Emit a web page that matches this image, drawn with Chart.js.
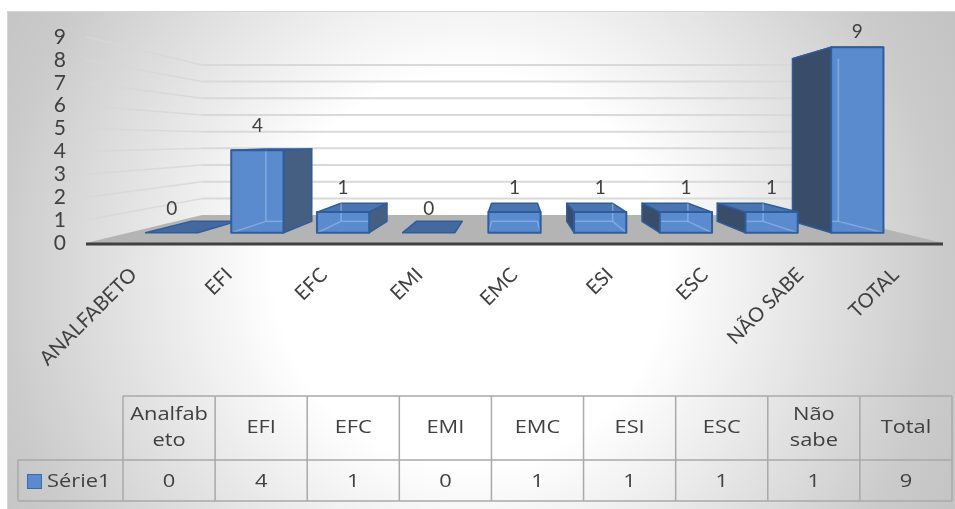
<!DOCTYPE html>
<html>
<head>
<meta charset="utf-8">
<script src="https://cdn.jsdelivr.net/npm/chart.js@4.4.1/dist/chart.umd.min.js"></script>
<style>
  html, body { margin: 0; padding: 0; background: #ffffff; }
  #wrap { width: 955px; height: 509px; position: relative; }
  canvas { display: block; }
</style>
</head>
<body>
<div id="wrap"><canvas id="c" width="955" height="509"></canvas></div>
<script>
// ---- data ----
const categories = ['Analfabeto', 'EFI', 'EFC', 'EMI', 'EMC', 'ESI', 'ESC', 'Não sabe', 'Total'];
const values = [0, 4, 1, 0, 1, 1, 1, 1, 9];
const seriesName = 'Série1';
const yTicks = [0, 1, 2, 3, 4, 5, 6, 7, 8, 9];

// ---- look ----
const FONT = "Lato, 'Open Sans', sans-serif";
const TABLE_FONT = "'Open Sans', Lato, sans-serif";
const TABLE_STRETCH = 1.15;
const TEXT = '#404040';
// perspective depths (1 = front edge of the floor, smaller = further away)
const DEPTH = { barFront: 0.9, barBack: 0.79, wall: 0.729 };

function vanish(ca) {
  return [(ca.left + ca.right) / 2, (ca.top + ca.bottom) / 2];
}
function proj(ca, x, y, s) {
  const [vx, vy] = vanish(ca);
  return [vx + (x - vx) * s, vy + (y - vy) * s];
}
function poly(ctx, pts, fill, stroke, lw) {
  ctx.beginPath();
  ctx.moveTo(pts[0][0], pts[0][1]);
  for (let i = 1; i < pts.length; i++) ctx.lineTo(pts[i][0], pts[i][1]);
  ctx.closePath();
  if (fill) { ctx.fillStyle = fill; ctx.fill(); }
  if (stroke) { ctx.strokeStyle = stroke; ctx.lineWidth = lw || 1; ctx.lineJoin = 'round'; ctx.stroke(); }
}
function line(ctx, a, b, color, lw) {
  ctx.beginPath();
  ctx.moveTo(a[0], a[1]);
  ctx.lineTo(b[0], b[1]);
  ctx.strokeStyle = color;
  ctx.lineWidth = lw;
  ctx.stroke();
}

// chart backdrop with radial shading
const backdrop = {
  id: 'backdrop',
  beforeDraw(chart) {
    const ctx = chart.ctx;
    ctx.save();
    ctx.fillStyle = '#ffffff';
    ctx.fillRect(0, 0, chart.width, chart.height);
    const g = ctx.createRadialGradient(470, 270, 0, 470, 270, 560);
    g.addColorStop(0, '#ffffff');
    g.addColorStop(0.35, '#ffffff');
    g.addColorStop(0.85, '#cacaca');
    g.addColorStop(1, '#c2c2c2');
    ctx.fillStyle = g;
    ctx.fillRect(7, 11, chart.width - 7, chart.height - 11);
    ctx.strokeStyle = '#d4d4d4';
    ctx.lineWidth = 1;
    ctx.strokeRect(7.5, 11.5, chart.width, chart.height);
    ctx.restore();
  }
};

// side wall / back wall gridlines and the floor
const walls = {
  id: 'walls',
  beforeDatasetsDraw(chart) {
    const ctx = chart.ctx, ca = chart.chartArea, ys = chart.scales.y;
    ctx.save();
    yTicks.forEach(v => {
      if (v === 0) return;
      const yf = ys.getPixelForValue(v);
      const a = proj(ca, ca.left, yf, DEPTH.wall);
      const b = proj(ca, ca.right, yf, DEPTH.wall);
      line(ctx, [ca.left, yf], a, 'rgba(215,215,215,0.85)', 1.5);
      line(ctx, a, b, '#d9d9d9', 2);
    });
    const y0 = ys.getPixelForValue(0);
    poly(ctx, [[ca.left, y0], [ca.right, y0],
               proj(ca, ca.right, y0, DEPTH.wall), proj(ca, ca.left, y0, DEPTH.wall)], '#b4b4b4');
    line(ctx, [ca.left, y0 + 1], [ca.right, y0 + 1], '#404040', 3);
    ctx.restore();
  }
};

// 3D boxes built on the bar elements laid out by the category / linear scales
const boxes = {
  id: 'boxes',
  afterDatasetsDraw(chart) {
    const ctx = chart.ctx, ca = chart.chartArea;
    const meta = chart.getDatasetMeta(0);
    const [vx] = vanish(ca);
    const idx = meta.data.map((_, i) => i)
      .sort((a, b) => Math.abs(meta.data[b].x - vx) - Math.abs(meta.data[a].x - vx));
    ctx.save();
    const labels = [];
    idx.forEach(i => {
      const el = meta.data[i];
      const v = chart.data.datasets[0].data[i];
      const l = el.x - el.width / 2, r = el.x + el.width / 2, t = el.y, b = el.base;
      const face = s => ({
        lt: proj(ca, l, t, s), rt: proj(ca, r, t, s),
        rb: proj(ca, r, b, s), lb: proj(ca, l, b, s)
      });
      const f = face(DEPTH.barFront), k = face(DEPTH.barBack);
      const edge = '#2f5c9a';
      if (v === 0) {
        poly(ctx, [f.lb, f.rb, k.rb, k.lb], '#44699f', edge, 1.5);
      } else {
        poly(ctx, [f.lt, f.rt, k.rt, k.lt], '#4b75ae', edge, 1.5);
        if (el.x < vx - 2) {
          poly(ctx, [f.rt, k.rt, k.rb, f.rb], '#455f82', edge, 1.5);
        } else if (el.x > vx + 2) {
          poly(ctx, [f.lt, k.lt, k.lb, f.lb], '#394d6b', edge, 1.5);
        }
        poly(ctx, [f.lt, f.rt, f.rb, f.lb], '#5b8bcf', null);
        // edges seen through the glassy front face
        const glass = 'rgba(160,195,240,0.55)';
        if (el.x < vx - 2) {
          line(ctx, k.lt, k.lb, glass, 1.5);
          line(ctx, k.lb, f.lb, glass, 1.5);
          line(ctx, k.lb, [Math.min(k.rb[0], f.rb[0]), k.rb[1]], glass, 1.5);
        } else if (el.x > vx + 2) {
          line(ctx, k.rt, k.rb, glass, 1.5);
          line(ctx, k.rb, f.rb, glass, 1.5);
          line(ctx, [Math.max(k.lb[0], f.lb[0]), k.lb[1]], k.rb, glass, 1.5);
        } else {
          line(ctx, k.lb, f.lb, glass, 1.5);
          line(ctx, k.rb, f.rb, glass, 1.5);
          line(ctx, k.lb, k.rb, glass, 1.5);
        }
        poly(ctx, [f.lt, f.rt, f.rb, f.lb], null, edge, 2);
      }
      labels.push({ x: (f.lt[0] + f.rt[0]) / 2, y: Math.max(f.lt[1] - 18, 38), text: String(v) });
    });
    ctx.fillStyle = TEXT;
    ctx.font = '19px ' + FONT;
    ctx.textAlign = 'center';
    ctx.textBaseline = 'alphabetic';
    labels.forEach(p => ctx.fillText(p.text, p.x, p.y));
    ctx.restore();
  }
};

// data table under the plot
function wrapText(ctx, text, maxW) {
  const out = [];
  let cur = '';
  text.split(' ').forEach(word => {
    const trial = cur ? cur + ' ' + word : word;
    if (ctx.measureText(trial).width <= maxW) { cur = trial; return; }
    if (cur) { out.push(cur); cur = ''; }
    let piece = '';
    for (const ch of word) {
      if (ctx.measureText(piece + ch).width > maxW && piece) { out.push(piece); piece = ch; }
      else piece += ch;
    }
    cur = piece;
  });
  if (cur) out.push(cur);
  return out;
}
function wideText(ctx, text, x, y) {
  ctx.save();
  ctx.translate(x, y);
  ctx.scale(TABLE_STRETCH, 1);
  ctx.fillText(text, 0, 0);
  ctx.restore();
}
const dataTable = {
  id: 'dataTable',
  afterDraw(chart) {
    const ctx = chart.ctx;
    const left = 123, right = 952, keyLeft = 18;
    const top = 396, mid = 460, bottom = 501;
    const colW = (right - left) / categories.length;
    ctx.save();
    ctx.strokeStyle = '#a9a9a9';
    ctx.lineWidth = 1.5;
    ctx.beginPath();
    ctx.moveTo(left, top); ctx.lineTo(right, top);
    ctx.moveTo(keyLeft, mid); ctx.lineTo(right, mid);
    ctx.moveTo(keyLeft, bottom); ctx.lineTo(right, bottom);
    ctx.moveTo(keyLeft, mid); ctx.lineTo(keyLeft, bottom);
    for (let i = 0; i <= categories.length; i++) {
      const x = left + i * colW;
      ctx.moveTo(x, top); ctx.lineTo(x, bottom);
    }
    ctx.stroke();

    ctx.fillStyle = TEXT;
    ctx.font = '19px ' + TABLE_FONT;
    ctx.textAlign = 'center';
    ctx.textBaseline = 'middle';
    const lh = 26;
    categories.forEach((c, i) => {
      const cx = left + (i + 0.5) * colW;
      const lines = wrapText(ctx, c, colW - 22);
      const y0 = (top + mid) / 2 - (lines.length - 1) * lh / 2;
      lines.forEach((ln, j) => wideText(ctx, ln, cx, y0 + j * lh));
      wideText(ctx, String(values[i]), cx, (mid + bottom) / 2 + 1);
    });
    // series key
    ctx.fillStyle = '#5b8bcf';
    ctx.fillRect(27, 474, 15, 15);
    ctx.strokeStyle = '#3a6aad';
    ctx.lineWidth = 1;
    ctx.strokeRect(27.5, 474.5, 14, 14);
    ctx.fillStyle = TEXT;
    ctx.textAlign = 'left';
    wideText(ctx, seriesName, 47, (mid + bottom) / 2 + 1);
    ctx.restore();
  }
};

new Chart(document.getElementById('c'), {
  type: 'bar',
  data: {
    labels: categories,
    datasets: [{
      label: seriesName,
      data: values,
      backgroundColor: 'rgba(0,0,0,0)',
      borderWidth: 0,
      barPercentage: 0.61,
      categoryPercentage: 1
    }]
  },
  options: {
    responsive: false,
    animation: false,
    devicePixelRatio: 1,
    layout: { padding: { left: 0, top: 37, right: 12, bottom: 0 } },
    plugins: { legend: { display: false }, tooltip: { enabled: false } },
    scales: {
      x: {
        grid: { display: false, drawTicks: false },
        border: { display: false },
        ticks: {
          autoSkip: false, minRotation: 45, maxRotation: 45, padding: 20,
          color: TEXT, font: { family: FONT, size: 20 },
          callback: (v, i) => categories[i].toUpperCase()
        },
        afterFit(s) { s.height = 266; }
      },
      y: {
        min: 0, max: 9,
        grid: { display: false, drawTicks: false },
        border: { display: false },
        ticks: { autoSkip: false, stepSize: 1, padding: 20, color: TEXT, font: { family: FONT, size: 21 } },
        afterBuildTicks(s) { s.ticks = yTicks.map(v => ({ value: v })); },
        afterFit(s) { s.width = 86; }
      }
    }
  },
  plugins: [backdrop, walls, boxes, dataTable]
});
</script>
</body>
</html>
